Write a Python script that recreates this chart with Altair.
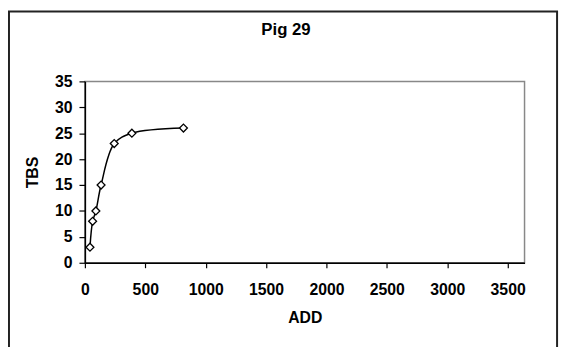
import altair as alt
import pandas as pd

add_vals = [42, 64, 91, 134, 243, 389, 816]
tbs_vals = [3, 8, 10, 15, 23, 25, 26]
x_ticks = [0, 500, 1000, 1500, 2000, 2500, 3000, 3500]
y_ticks = [0, 5, 10, 15, 20, 25, 30, 35]
title_text = ["Pig 29"]

df = pd.DataFrame({"ADD": add_vals, "TBS": tbs_vals})
one = pd.DataFrame({"t": title_text})

FONT = "Liberation Sans"
W, H = 446, 184

xs = alt.X("ADD:Q", scale=alt.Scale(domain=[0, 3640], nice=False, zero=True),
           axis=alt.Axis(values=x_ticks, format="d", title="ADD", grid=False,
                         tickSize=5, labelPadding=14, titleY=56,
                         titleBaseline="middle", titleX=W / 2,
                         labelOverlap=False, labelFlush=False))
ys = alt.Y("TBS:Q", scale=alt.Scale(domain=[0, 35], nice=False),
           axis=alt.Axis(values=y_ticks, format="d", title="TBS", grid=False,
                         tickSize=6, labelPadding=7, titleX=-53, titleY=H / 2,
                         titleBaseline="middle", titleAngle=270,
                         labelOverlap=False, labelFlush=False))

line = alt.Chart(df).mark_line(color="black", strokeWidth=1.5,
                               interpolate="catmull-rom").encode(x=xs, y=ys)
pts = alt.Chart(df).mark_point(shape="diamond", filled=True, fill="white",
                               stroke="black", strokeWidth=1.3, size=64,
                               opacity=1).encode(x=xs, y=ys)

frame = alt.Chart(one).mark_rect(fill=None, stroke="#222222", strokeWidth=2).encode(
    x=alt.value(-77), x2=alt.value(479), y=alt.value(-71), y2=alt.value(400))

title = alt.Chart(one).mark_text(font=FONT, fontSize=17, fontWeight="bold",
                                 baseline="alphabetic", align="center",
                                 color="black").encode(
    x=alt.value(204), y=alt.value(-47), text="t:N")

chart = alt.layer(frame, line, pts, title).properties(
    width=W, height=H,
    background="white",
    autosize=alt.AutoSizeParams(type="none"),
    padding={"left": 78, "top": 72, "right": 38, "bottom": 83},
).configure_view(stroke="#888888", strokeWidth=1.5).configure_axis(
    labelFont=FONT, labelFontSize=16, labelFontWeight="bold", labelColor="black",
    titleFont=FONT, titleFontSize=16, titleFontWeight="bold", titleColor="black",
    domainColor="black", domainWidth=1.5, tickColor="black", tickWidth=1.2,
)

chart.save("out.html", embed_options={"renderer": "svg", "actions": False})
